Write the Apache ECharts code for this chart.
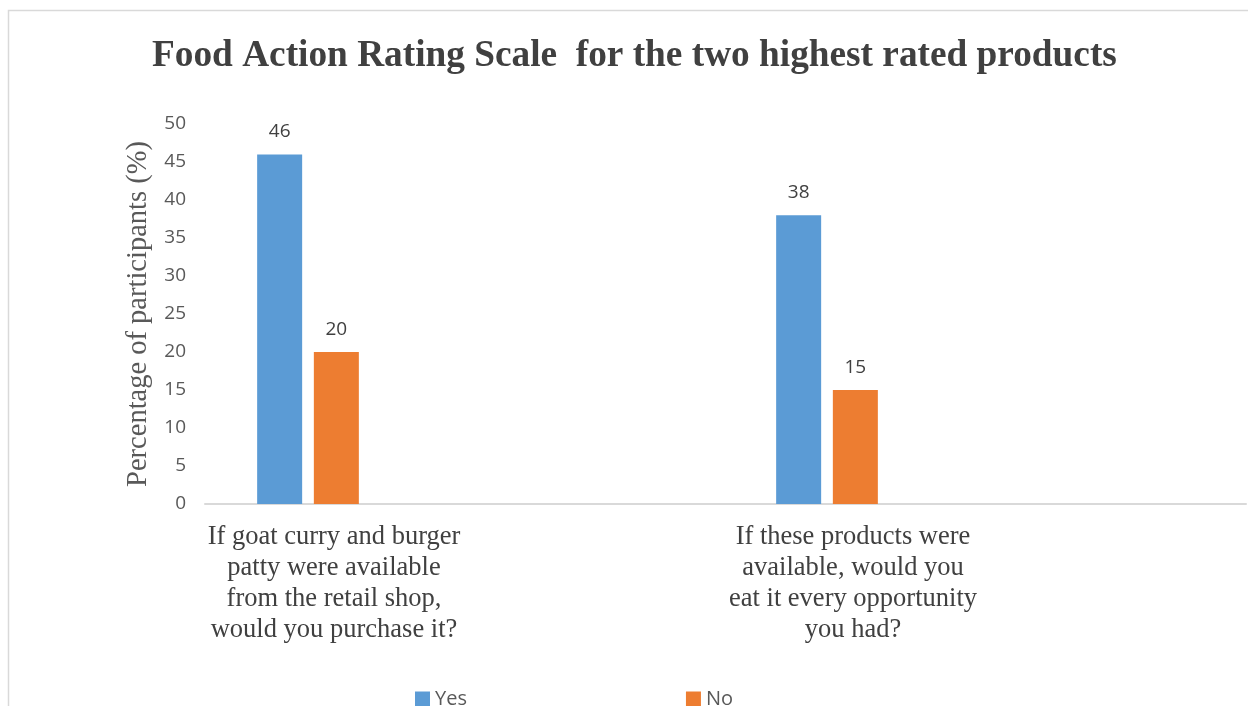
<!DOCTYPE html>
<html>
<head>
<meta charset="utf-8">
<script src="https://cdn.jsdelivr.net/npm/echarts@6/dist/echarts.min.js"></script>
<style>
  html,body{margin:0;padding:0;background:#fff;}
  #chart{width:1248px;height:706px;}
</style>
</head>
<body>
<div id="chart"></div>
<script>
var titleText = "Food Action Rating Scale  for the two highest rated products";
var categories = [
  "If goat curry and burger\npatty were available\nfrom the retail shop,\nwould you purchase it?",
  "If these products were\navailable, would you\neat it every opportunity\nyou had?"
];
var yesValues = [46, 38];
var noValues = [20, 15];
var seriesNames = ["Yes", "No"];
var yTicks = {min: 0, max: 50, step: 5};

var chart = echarts.init(document.getElementById("chart"));

var serif = "'Liberation Serif', 'Times New Roman', serif";
var sans = "'Open Sans', 'Liberation Sans', sans-serif";

var labelStyle = {
  show: true,
  position: "top",
  distance: 13,
  color: "#404040",
  fontFamily: sans,
  fontSize: 19
};

var option = {
  animation: false,
  backgroundColor: "#fff",
  graphic: [
    {
      type: "rect",
      shape: {x: 8.5, y: 10.5, width: 1400, height: 900},
      style: {fill: "none", stroke: "#d9d9d9", lineWidth: 1.5},
      silent: true
    }
  ],
  title: {
    text: titleText,
    left: 147,
    top: 33,
    textStyle: {
      fontFamily: serif,
      fontWeight: "bold",
      fontSize: 37.3,
      color: "#404040"
    }
  },
  legend: {
    data: seriesNames,
    left: 410,
    top: 684,
    icon: "rect",
    itemWidth: 15,
    itemHeight: 15,
    itemGap: 219,
    textStyle: {fontFamily: sans, fontSize: 20, color: "#595959", padding: [0, 0, 0, 0]}
  },
  grid: [
    // bars
    {left: 48.5, right: 161.5, top: 124, bottom: 202},
    // visible axes
    {left: 205, right: 2, top: 124, bottom: 202}
  ],
  xAxis: [
    {
      type: "category",
      gridIndex: 0,
      data: categories,
      axisLine: {show: false},
      axisTick: {show: false},
      axisLabel: {
        interval: 0,
        margin: 18,
        color: "#404040",
        fontFamily: serif,
        fontSize: 26.5,
        lineHeight: 31,
        padding: [0, 0, 0, 52]
      }
    },
    {
      type: "category",
      gridIndex: 1,
      data: categories,
      axisLine: {show: true, lineStyle: {color: "#d9d9d9", width: 2}},
      axisTick: {show: false},
      axisLabel: {show: false}
    }
  ],
  yAxis: [
    {
      type: "value",
      gridIndex: 0,
      min: yTicks.min,
      max: yTicks.max,
      interval: yTicks.step,
      show: false,
      splitLine: {show: false}
    },
    {
      type: "value",
      gridIndex: 1,
      min: yTicks.min,
      max: yTicks.max,
      interval: yTicks.step,
      axisLine: {show: false},
      axisTick: {show: false},
      splitLine: {show: false},
      axisLabel: {
        margin: 19,
        color: "#595959",
        fontFamily: sans,
        fontSize: 19
      },
      name: "Percentage of participants (%)",
      nameLocation: "middle",
      nameGap: 52,
      nameTextStyle: {
        fontFamily: serif,
        fontSize: 28.5,
        color: "#595959"
      }
    }
  ],
  series: [
    {
      name: seriesNames[0],
      type: "bar",
      xAxisIndex: 0,
      yAxisIndex: 0,
      data: yesValues,
      barWidth: 45,
      barGap: "26%",
      itemStyle: {color: "#5B9BD5"},
      label: labelStyle
    },
    {
      name: seriesNames[1],
      type: "bar",
      xAxisIndex: 0,
      yAxisIndex: 0,
      data: noValues,
      barWidth: 45,
      barGap: "26%",
      itemStyle: {color: "#ED7D31"},
      label: labelStyle
    }
  ]
};

chart.setOption(option);
window.onresize = function(){ chart.resize(); };
</script>
</body>
</html>
